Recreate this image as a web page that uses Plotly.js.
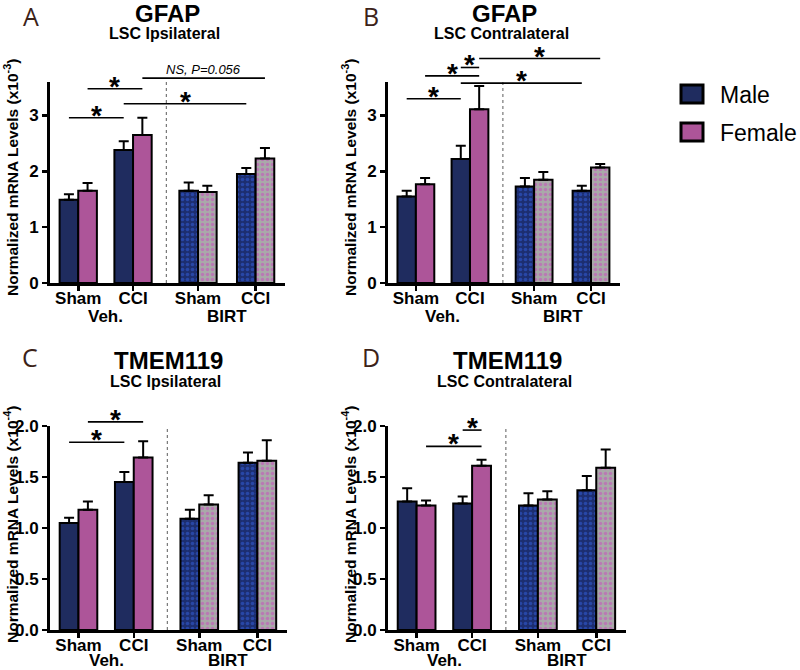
<!DOCTYPE html>
<html>
<head>
<meta charset="utf-8">
<script src="https://cdn.plot.ly/plotly-3.0.1.min.js"></script>
<style>html,body{margin:0;padding:0;background:#fff;}#chart{width:800px;height:670px;}</style>
</head>
<body>
<div id="chart"></div>
<script>
// ---------- DATA ----------
const categories = ['Sham', 'CCI', 'Sham', 'CCI'];
const treatments = ['Veh.', 'BIRT'];
const sexes = ['Male', 'Female'];

const gfapIpsiMale = [1.49, 2.38, 1.65, 1.95];
const gfapIpsiMaleSem = [0.10, 0.16, 0.15, 0.11];
const gfapIpsiFemale = [1.65, 2.65, 1.63, 2.23];
const gfapIpsiFemaleSem = [0.14, 0.31, 0.11, 0.19];

const gfapContraMale = [1.55, 2.22, 1.73, 1.65];
const gfapContraMaleSem = [0.10, 0.24, 0.15, 0.09];
const gfapContraFemale = [1.77, 3.11, 1.85, 2.07];
const gfapContraFemaleSem = [0.11, 0.42, 0.14, 0.06];

const tmemIpsiMale = [1.05, 1.45, 1.09, 1.64];
const tmemIpsiMaleSem = [0.05, 0.10, 0.09, 0.10];
const tmemIpsiFemale = [1.18, 1.69, 1.23, 1.66];
const tmemIpsiFemaleSem = [0.08, 0.16, 0.09, 0.20];

const tmemContraMale = [1.26, 1.24, 1.22, 1.37];
const tmemContraMaleSem = [0.13, 0.07, 0.12, 0.14];
const tmemContraFemale = [1.22, 1.61, 1.28, 1.59];
const tmemContraFemaleSem = [0.05, 0.06, 0.08, 0.18];

const panelGenes = ['GFAP', 'GFAP', 'TMEM119', 'TMEM119'];
const panelRegions = ['LSC Ipsilateral', 'LSC Contralateral', 'LSC Ipsilateral', 'LSC Contralateral'];
const panelLetters = ['A', 'B', 'C', 'D'];
const panelExponents = ['-3', '-3', '-4', '-4'];
const yTitleText = 'Normalized mRNA Levels (x10';

// significance brackets: [from bar, to bar, height (data units), label]; bar = group*2 + sex
const sigGfapIpsi = [[0, 2, 2.96, '*'], [1, 3, 3.48, '*'], [2, 6, 3.21, '*'], [3, 7, 3.67, 'NS, P=0.056']];
const sigGfapContra = [[0, 2, 3.30, '*'], [1, 3, 3.71, '*'], [2, 3, 3.86, '*'], [3, 7, 4.02, '*'], [2, 6, 3.58, '*']];
const sigTmemIpsi = [[0, 2, 1.84, '*'], [1, 3, 2.04, '*']];
const sigTmemContra = [[1, 3, 1.80, '*'], [2, 3, 1.96, '*']];

// ---------- LAYOUT CONSTANTS ----------
const W = 800, H = 670;
const FONT = 'Liberation Sans, Arial, Helvetica, sans-serif';
const boxes = [
  {x0: 50, x1: 285, yZero: 283, yTop: 82, ymax: 3.6, ticks: [0, 1, 2, 3], fmt: 'd', ytx: 11, letter: [31, 16], grp: 33},
  {x0: 388, x1: 620, yZero: 283, yTop: 82, ymax: 3.6, ticks: [0, 1, 2, 3], fmt: 'd', ytx: 349, letter: [371, 16], grp: 33},
  {x0: 50, x1: 287, yZero: 630, yTop: 426, ymax: 2.0, ticks: [0, 0.5, 1, 1.5, 2], fmt: '.1f', ytx: 11, letter: [30, 357], grp: 30},
  {x0: 388, x1: 626, yZero: 630, yTop: 426, ymax: 2.0, ticks: [0, 0.5, 1, 1.5, 2], fmt: '.1f', ytx: 349, letter: [371, 357], grp: 30}
];
const groupPos = [0, 0.97, 2.12, 3.14];
const xRange = [-0.5, 3.66];
const barW = 0.33;
const dividerPos = 1.56;

const colMale = '#1f2c5f', colFemale = '#ad5599';
const patMale = {shape: '.', bgcolor: '#1c2e70', fgcolor: '#3360dd', size: 5, solidity: 0.4};
const patFemale = {shape: '.', bgcolor: '#a9a9a9', fgcolor: '#c94ac0', size: 5, solidity: 0.4};

const panelData = [
  {m: gfapIpsiMale, ms: gfapIpsiMaleSem, f: gfapIpsiFemale, fs: gfapIpsiFemaleSem, sig: sigGfapIpsi},
  {m: gfapContraMale, ms: gfapContraMaleSem, f: gfapContraFemale, fs: gfapContraFemaleSem, sig: sigGfapContra},
  {m: tmemIpsiMale, ms: tmemIpsiMaleSem, f: tmemIpsiFemale, fs: tmemIpsiFemaleSem, sig: sigTmemIpsi},
  {m: tmemContraMale, ms: tmemContraMaleSem, f: tmemContraFemale, fs: tmemContraFemaleSem, sig: sigTmemContra}
];

const px = p => p / W;
const py = p => 1 - p / H;
const barX = b => groupPos[Math.floor(b / 2)] + (b % 2 === 0 ? -barW / 2 : barW / 2);

const traces = [];
const shapes = [];
const annotations = [];
const layout = {
  width: W, height: H,
  margin: {l: 0, r: 0, t: 0, b: 0},
  paper_bgcolor: '#ffffff', plot_bgcolor: '#ffffff',
  showlegend: false, barmode: 'overlay',
  font: {family: FONT, color: '#000'}
};

panelData.forEach((d, i) => {
  const bx = boxes[i];
  const sfx = i === 0 ? '' : String(i + 1);
  const xa = 'x' + sfx, ya = 'y' + sfx;
  const errOpts = (arr) => ({type: 'data', array: arr, arrayminus: arr.map(() => 0), symmetric: false,
    color: '#000', thickness: 2, width: 5});
  const idxVeh = [0, 1], idxBirt = [2, 3];
  const pick = (arr, idx) => idx.map(k => arr[k]);
  const defs = [
    {idx: idxVeh, sex: 0, vals: d.m, sem: d.ms, color: colMale, pat: null},
    {idx: idxVeh, sex: 1, vals: d.f, sem: d.fs, color: colFemale, pat: null},
    {idx: idxBirt, sex: 0, vals: d.m, sem: d.ms, color: patMale.bgcolor, pat: patMale},
    {idx: idxBirt, sex: 1, vals: d.f, sem: d.fs, color: patFemale.bgcolor, pat: patFemale}
  ];
  defs.forEach(t => {
    const marker = {color: t.color, line: {color: '#000', width: 2}};
    if (t.pat) marker.pattern = Object.assign({fillmode: 'overlay'}, t.pat);
    traces.push({
      type: 'bar', xaxis: xa, yaxis: ya,
      name: sexes[t.sex] + ' ' + treatments[t.idx[0] < 2 ? 0 : 1],
      x: t.idx.map(k => barX(k * 2 + t.sex)),
      y: pick(t.vals, t.idx),
      width: t.idx.map(() => barW),
      marker: marker,
      error_y: errOpts(pick(t.sem, t.idx)),
      hoverinfo: 'skip'
    });
  });

  layout['xaxis' + sfx] = {
    domain: [px(bx.x0), px(bx.x1)], range: xRange, anchor: ya,
    showline: true, linewidth: 3, linecolor: '#000',
    ticks: 'outside', ticklen: 5, tickwidth: 2.5, tickcolor: '#000',
    tickvals: groupPos, ticktext: categories, ticklabelstandoff: -7,
    tickfont: {family: FONT, size: 17, weight: 'bold', color: '#000'},
    showgrid: false, zeroline: false, fixedrange: true
  };
  layout['yaxis' + sfx] = {
    domain: [py(bx.yZero), py(bx.yTop)], range: [0, bx.ymax], anchor: xa,
    showline: true, linewidth: 3, linecolor: '#000',
    ticks: 'outside', ticklen: 5, tickwidth: 2.5, tickcolor: '#000',
    tickvals: bx.ticks, tickformat: bx.fmt,
    tickfont: {family: FONT, size: 17, weight: 'bold', color: '#000'},
    showgrid: false, zeroline: false, fixedrange: true
  };

  // divider
  shapes.push({type: 'line', xref: xa, yref: ya + ' domain', x0: dividerPos, x1: dividerPos, y0: 0, y1: 1,
    line: {color: '#777', width: 1.2, dash: 'dot'}});

  // group labels
  [[0, 1], [2, 3]].forEach((g, k) => {
    annotations.push({xref: xa, yref: 'paper', x: (groupPos[g[0]] + groupPos[g[1]]) / 2, y: py(bx.yZero + bx.grp),
      text: treatments[k], showarrow: false, xanchor: 'center', yanchor: 'middle', borderpad: 0,
      font: {family: FONT, size: 17, weight: 'bold', color: '#000'}});
  });

  // titles
  const cx = (bx.x0 + bx.x1) / 2;
  annotations.push({xref: 'paper', yref: 'paper', x: px(cx), y: py(bx.yZero - 269), text: panelGenes[i],
    showarrow: false, xanchor: 'center', yanchor: 'middle', font: {family: FONT, size: 24, weight: 'bold', color: '#000'}});
  annotations.push({xref: 'paper', yref: 'paper', x: px(cx - 3), y: py(bx.yZero - 249), text: panelRegions[i],
    showarrow: false, xanchor: 'center', yanchor: 'middle', font: {family: FONT, size: 16, weight: 'bold', color: '#000'}});
  annotations.push({xref: 'paper', yref: 'paper', x: px(bx.letter[0]), y: py(bx.letter[1]), text: panelLetters[i],
    showarrow: false, xanchor: 'center', yanchor: 'middle', font: {family: 'Open Sans, sans-serif', size: 25, color: '#3c2218'}});
  // y title
  annotations.push({xref: 'paper', yref: 'paper', x: px(bx.ytx), y: py(bx.yZero - 105), textangle: -90,
    text: yTitleText + '<sup>' + panelExponents[i] + '</sup>)',
    showarrow: false, xanchor: 'center', yanchor: 'middle', font: {family: FONT, size: 15.5, weight: 'bold', color: '#000'}});

  // significance brackets
  d.sig.forEach(s => {
    const x0 = barX(s[0]), x1 = barX(s[1]);
    const yy = s[2] / bx.ymax;
    shapes.push({type: 'line', xref: xa, yref: ya + ' domain', x0: x0, x1: x1, y0: yy, y1: yy,
      line: {color: '#000', width: 1.6}});
    if (s[3] === '*') {
      annotations.push({xref: xa, yref: ya + ' domain', x: (x0 + x1) / 2, y: yy, text: '*', showarrow: false,
        xanchor: 'center', yanchor: 'bottom', yshift: -15,
        font: {family: FONT, size: 28, weight: 'bold', color: '#000'}});
    } else {
      annotations.push({xref: xa, yref: ya + ' domain', x: (x0 + x1) / 2, y: yy, text: '<i>' + s[3] + '</i>', showarrow: false,
        xanchor: 'center', yanchor: 'bottom', yshift: -1,
        font: {family: FONT, size: 13, color: '#000'}});
    }
  });
});

// legend (drawn manually)
[[colMale, 85, 'Male'], [colFemale, 123, 'Female']].forEach(l => {
  shapes.push({type: 'rect', xref: 'paper', yref: 'paper', x0: px(681), x1: px(703), y0: py(l[1] + 18), y1: py(l[1]),
    fillcolor: l[0], line: {color: '#000', width: 3}});
  annotations.push({xref: 'paper', yref: 'paper', x: px(718), y: py(l[1] + 10), text: l[2], showarrow: false,
    xanchor: 'left', yanchor: 'middle', font: {family: FONT, size: 23, color: '#000'}});
});

layout.shapes = shapes;
layout.annotations = annotations;

Plotly.newPlot('chart', traces, layout, {displayModeBar: false, staticPlot: true});
</script>
</body>
</html>
